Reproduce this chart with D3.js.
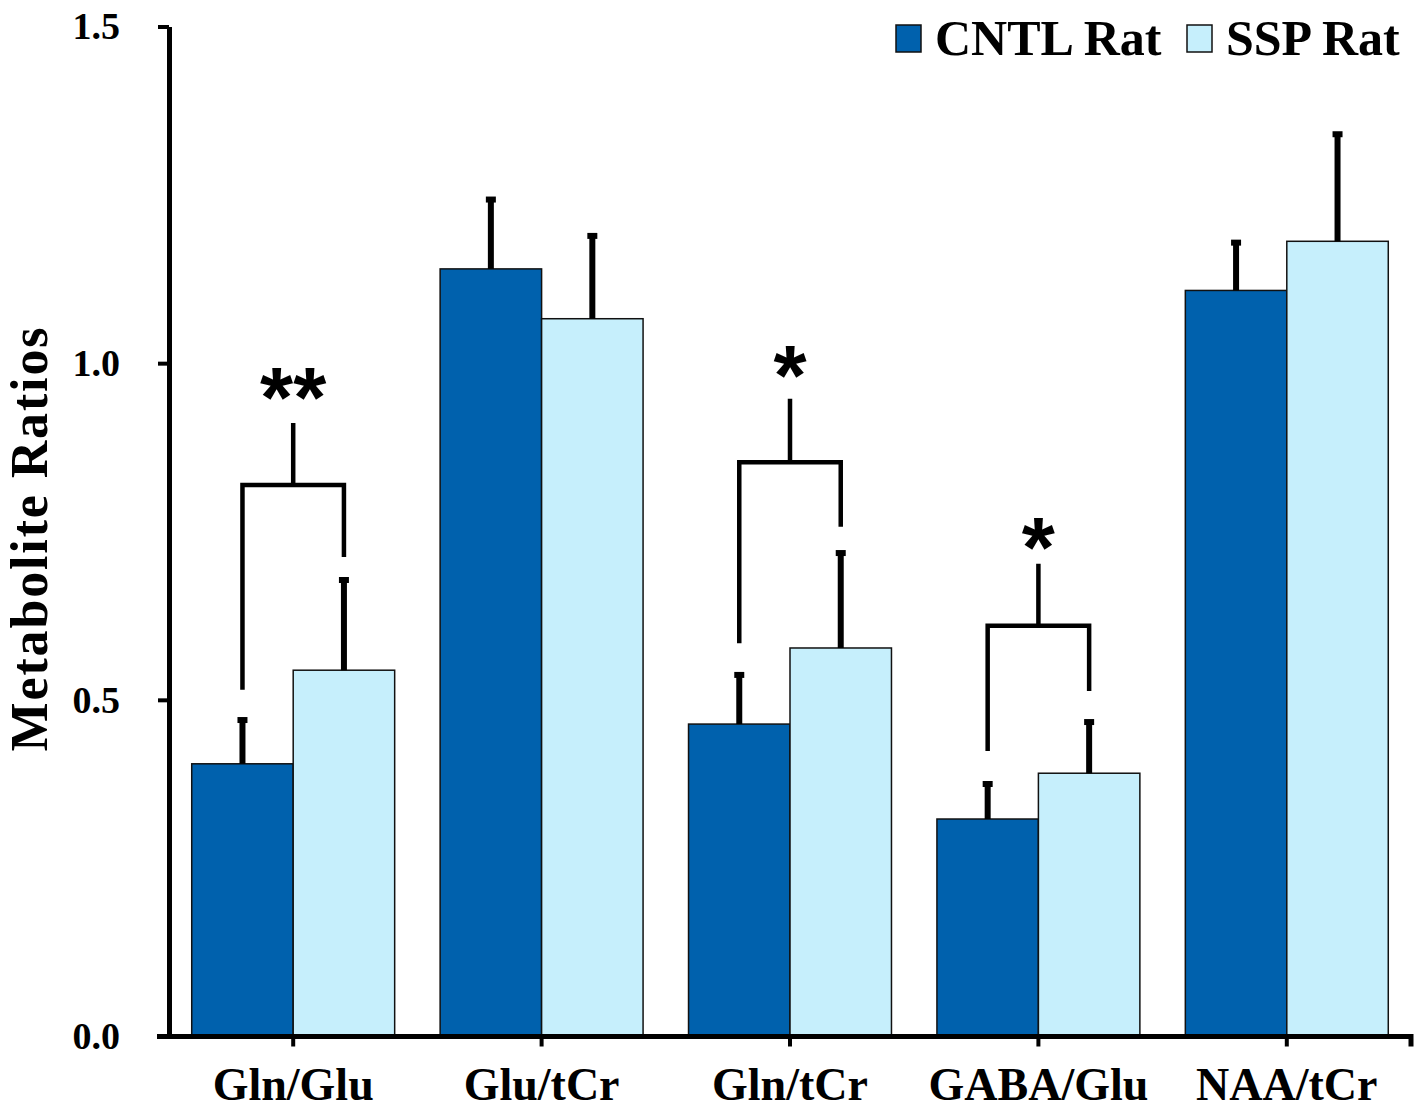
<!DOCTYPE html>
<html lang="en">
<head>
  <meta charset="UTF-8">
  <title>Metabolite Ratios</title>
  <script src="https://d3js.org/d3.v7.min.js"></script>
  <style>
    body { margin: 0; background: #fff; }
    text { font-family: "Liberation Serif", "Times New Roman", serif; font-weight: bold; fill: #000; }
    .star { font-family: "Liberation Sans", Arial, sans-serif; }
  </style>
</head>
<body>
  <div id="chart"></div>
  <script>
    // data
    const categories = ["Gln/Glu", "Glu/tCr", "Gln/tCr", "GABA/Glu", "NAA/tCr"];
    const groups = ["CNTL Rat", "SSP Rat"];
    const cntlValues = [0.405, 1.140, 0.464, 0.323, 1.108];
    const cntlErrors = [0.065, 0.103, 0.073, 0.052, 0.071];
    const sspValues = [0.544, 1.066, 0.577, 0.391, 1.181];
    const sspErrors = [0.134, 0.123, 0.141, 0.076, 0.159];
    const yTicks = [0, 0.5, 1.0, 1.5];

    // significance brackets: category, horizontal level, stem top, leg ends, star level, label
    const sigCategories = ["Gln/Glu", "Gln/tCr", "GABA/Glu"];
    const sigLevels = [0.819, 0.853, 0.610];
    const sigStemTops = [0.911, 0.947, 0.702];
    const sigLeftEnds = [0.515, 0.584, 0.424];
    const sigRightEnds = [0.712, 0.757, 0.513];
    const sigStarLevels = [0.975, 1.008, 0.752];
    const sigLabels = ["**", "*", "*"];

    const colors = { "CNTL Rat": "#0061ad", "SSP Rat": "#c6effc" };

    const W = 1421, H = 1110;
    const margin = { top: 26.5, right: 10, bottom: 73.5, left: 169 };

    const svg = d3.select("#chart").append("svg")
      .attr("width", W).attr("height", H);

    const x = d3.scaleBand()
      .domain(categories)
      .range([margin.left, 1411])
      .paddingInner(0.183)
      .paddingOuter(0.0915);
    const xSub = d3.scaleBand().domain(groups).range([0, x.bandwidth()]);
    const y = d3.scaleLinear().domain([0, 1.5]).range([H - margin.bottom, margin.top]);

    const rows = categories.map((c, i) => ({
      cat: c,
      bars: [
        { g: "CNTL Rat", v: cntlValues[i], e: cntlErrors[i] },
        { g: "SSP Rat", v: sspValues[i], e: sspErrors[i] }
      ]
    }));

    // bars
    const grp = svg.selectAll(".grp").data(rows).enter().append("g")
      .attr("transform", d => `translate(${x(d.cat)},0)`);

    grp.selectAll("rect").data(d => d.bars).enter().append("rect")
      .attr("x", d => xSub(d.g))
      .attr("width", xSub.bandwidth())
      .attr("y", d => y(d.v))
      .attr("height", d => y(0) - y(d.v))
      .attr("fill", d => colors[d.g])
      .attr("stroke", "#111")
      .attr("stroke-width", 1.5);

    // error bars (upper only)
    grp.selectAll(".err").data(d => d.bars).enter().append("line")
      .attr("x1", d => xSub(d.g) + xSub.bandwidth() / 2)
      .attr("x2", d => xSub(d.g) + xSub.bandwidth() / 2)
      .attr("y1", d => y(d.v))
      .attr("y2", d => y(d.v + d.e))
      .attr("stroke", "#000")
      .attr("stroke-width", 6);
    grp.selectAll(".cap").data(d => d.bars).enter().append("line")
      .attr("x1", d => xSub(d.g) + xSub.bandwidth() / 2 - 5)
      .attr("x2", d => xSub(d.g) + xSub.bandwidth() / 2 + 5)
      .attr("y1", d => y(d.v + d.e))
      .attr("y2", d => y(d.v + d.e))
      .attr("stroke", "#000")
      .attr("stroke-width", 6);

    // significance brackets
    sigCategories.forEach((c, i) => {
      const xl = x(c) + xSub("CNTL Rat") + xSub.bandwidth() / 2;
      const xr = x(c) + xSub("SSP Rat") + xSub.bandwidth() / 2;
      const xm = x(c) + x.bandwidth() / 2;
      const p = d3.path();
      p.moveTo(xl, y(sigLeftEnds[i]));
      p.lineTo(xl, y(sigLevels[i]));
      p.lineTo(xr, y(sigLevels[i]));
      p.lineTo(xr, y(sigRightEnds[i]));
      p.moveTo(xm, y(sigLevels[i]));
      p.lineTo(xm, y(sigStemTops[i]));
      svg.append("path")
        .attr("d", p.toString())
        .attr("fill", "none")
        .attr("stroke", "#000")
        .attr("stroke-width", 4.5);
      svg.append("text")
        .attr("class", "star")
        .attr("x", xm)
        .attr("y", y(sigStarLevels[i]) + 47)
        .attr("text-anchor", "middle")
        .style("font-size", "85px")
        .text(sigLabels[i]);
    });

    // y axis
    const yAxis = svg.append("g")
      .attr("transform", `translate(${margin.left},0)`)
      .call(d3.axisLeft(y).tickValues(yTicks).tickFormat(d3.format(".1f"))
        .tickSizeInner(11).tickSizeOuter(0).tickPadding(38));
    yAxis.select(".domain").attr("stroke-width", 5);
    yAxis.selectAll(".tick line").attr("stroke-width", 4);
    yAxis.selectAll(".tick text")
      .style("font-size", "38px")
      .style("font-family", "'Liberation Serif', serif")
      .style("font-weight", "bold");

    // x axis
    const xAxis = svg.append("g")
      .attr("transform", `translate(0,${y(0)})`)
      .call(d3.axisBottom(x).tickSizeInner(10).tickSizeOuter(0).tickPadding(21));
    const [x0, x1] = x.range();
    xAxis.select(".domain")
      .attr("d", `M${x0 - 12},0H${x1}V10`)
      .attr("stroke-width", 5)
      .attr("fill", "none");
    xAxis.selectAll(".tick line").attr("stroke-width", 4);
    xAxis.selectAll(".tick text")
      .style("font-size", "46px")
      .style("font-family", "'Liberation Serif', serif")
      .style("font-weight", "bold");

    // y axis title
    svg.append("text")
      .attr("transform", `translate(47,${(y(0) + y(1.5)) / 2 + 8}) rotate(-90)`)
      .attr("text-anchor", "middle")
      .attr("textLength", 424)
      .style("font-size", "52px")
      .text("Metabolite Ratios");

    // legend
    const legendX = [896, 1187];
    groups.forEach((g, i) => {
      svg.append("rect")
        .attr("x", legendX[i]).attr("y", 25)
        .attr("width", 25).attr("height", 27)
        .attr("fill", colors[g])
        .attr("stroke", "#111").attr("stroke-width", 1.5);
      svg.append("text")
        .attr("x", legendX[i] + 39).attr("y", 55)
        .style("font-size", "50px")
        .text(g);
    });
  </script>
</body>
</html>
